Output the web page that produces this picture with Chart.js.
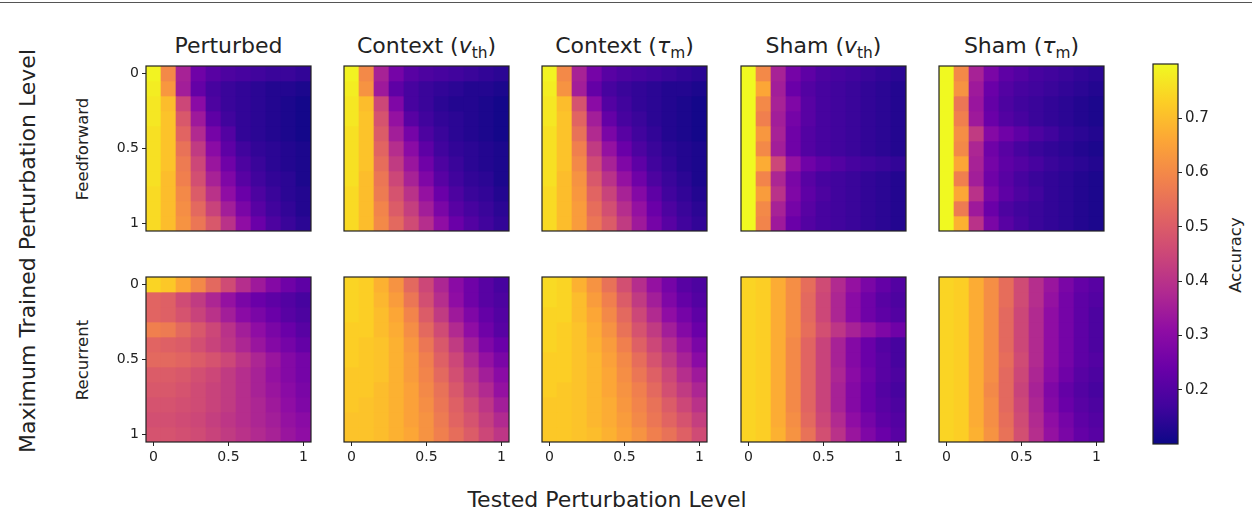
<!DOCTYPE html>
<html>
<head>
<meta charset="utf-8">
<script src="https://cdn.jsdelivr.net/npm/chart.js@4.4.0/dist/chart.umd.min.js"></script>
<style>
  body { margin: 0; width: 1252px; height: 517px; background: #fff; position: relative; overflow: hidden;
         font-family: "DejaVu Sans", sans-serif; color: #222; }
  .topline { position: absolute; left: 0; top: 2px; width: 1252px; height: 1px; background: #555; }
  canvas { position: absolute; }
  .lbl { position: absolute; white-space: nowrap; line-height: 1; transform: translate(-50%, -50%); }
  .rot { transform: translate(-50%, -50%) rotate(-90deg); }
  .big { font-size: 22px; }
  .row { font-size: 16.5px; }
  sub { font-size: 0.7em; vertical-align: -0.3em; line-height: 0; }
</style>
</head>
<body>
<div class="topline"></div>
<div id="labels"></div>
<div id="panels"></div>
<script>
// tested / trained perturbation levels
const levels = [0, 0.1, 0.2, 0.3, 0.4, 0.5, 0.6, 0.7, 0.8, 0.9, 1];
const tickValues = [0, 0.5, 1];
const tickLabels = ['0', '0.5', '1'];
const colorbarTicks = [0.2, 0.3, 0.4, 0.5, 0.6, 0.7];
const accMin = 0.1, accMax = 0.8;

const columnTitles = ['Perturbed', 'Context (<i>v</i><sub>th</sub>)', 'Context (<i>τ</i><sub>m</sub>)',
                      'Sham (<i>v</i><sub>th</sub>)', 'Sham (<i>τ</i><sub>m</sub>)'];
const rowTitles = ['Feedforward', 'Recurrent'];

// accuracy grids: rows = trained level (0 -> 1), columns = tested level (0 -> 1)
const ffPerturbed = [
  [0.79, 0.60, 0.36, 0.25, 0.21, 0.19, 0.18, 0.17, 0.16, 0.16, 0.15],
  [0.78, 0.63, 0.35, 0.23, 0.18, 0.16, 0.15, 0.14, 0.13, 0.13, 0.12],
  [0.77, 0.70, 0.45, 0.30, 0.19, 0.16, 0.15, 0.14, 0.13, 0.12, 0.11],
  [0.77, 0.71, 0.49, 0.34, 0.22, 0.17, 0.15, 0.14, 0.13, 0.12, 0.11],
  [0.76, 0.71, 0.52, 0.38, 0.26, 0.20, 0.15, 0.14, 0.13, 0.12, 0.11],
  [0.76, 0.71, 0.55, 0.42, 0.30, 0.22, 0.17, 0.15, 0.14, 0.13, 0.12],
  [0.76, 0.71, 0.57, 0.45, 0.33, 0.25, 0.19, 0.16, 0.14, 0.13, 0.12],
  [0.76, 0.70, 0.58, 0.47, 0.36, 0.28, 0.21, 0.17, 0.15, 0.14, 0.12],
  [0.75, 0.70, 0.60, 0.50, 0.40, 0.31, 0.24, 0.19, 0.16, 0.14, 0.13],
  [0.75, 0.70, 0.61, 0.53, 0.44, 0.35, 0.27, 0.21, 0.17, 0.15, 0.13],
  [0.75, 0.70, 0.62, 0.56, 0.49, 0.40, 0.31, 0.24, 0.19, 0.16, 0.14]
];
const ffContextV = [
  [0.79, 0.60, 0.36, 0.26, 0.21, 0.19, 0.18, 0.17, 0.16, 0.15, 0.14],
  [0.78, 0.62, 0.34, 0.22, 0.18, 0.16, 0.15, 0.14, 0.13, 0.13, 0.12],
  [0.77, 0.70, 0.45, 0.28, 0.18, 0.16, 0.14, 0.13, 0.13, 0.12, 0.11],
  [0.77, 0.71, 0.48, 0.32, 0.21, 0.17, 0.15, 0.14, 0.13, 0.12, 0.11],
  [0.76, 0.71, 0.50, 0.35, 0.26, 0.19, 0.16, 0.14, 0.13, 0.12, 0.11],
  [0.76, 0.71, 0.52, 0.39, 0.30, 0.22, 0.17, 0.15, 0.14, 0.13, 0.12],
  [0.76, 0.71, 0.54, 0.42, 0.33, 0.25, 0.19, 0.16, 0.14, 0.13, 0.12],
  [0.76, 0.70, 0.56, 0.45, 0.36, 0.28, 0.21, 0.17, 0.15, 0.14, 0.12],
  [0.75, 0.70, 0.57, 0.48, 0.40, 0.32, 0.24, 0.19, 0.16, 0.15, 0.13],
  [0.75, 0.70, 0.59, 0.50, 0.43, 0.35, 0.27, 0.21, 0.18, 0.16, 0.14],
  [0.75, 0.70, 0.60, 0.53, 0.46, 0.39, 0.31, 0.24, 0.20, 0.17, 0.15]
];
const ffContextTau = [
  [0.79, 0.60, 0.36, 0.26, 0.21, 0.19, 0.18, 0.17, 0.16, 0.15, 0.14],
  [0.78, 0.62, 0.35, 0.23, 0.18, 0.16, 0.15, 0.14, 0.13, 0.13, 0.12],
  [0.77, 0.70, 0.48, 0.30, 0.20, 0.17, 0.15, 0.14, 0.13, 0.12, 0.11],
  [0.77, 0.71, 0.52, 0.35, 0.23, 0.18, 0.16, 0.14, 0.13, 0.12, 0.11],
  [0.76, 0.71, 0.55, 0.38, 0.27, 0.21, 0.17, 0.15, 0.13, 0.12, 0.11],
  [0.76, 0.71, 0.58, 0.42, 0.32, 0.24, 0.19, 0.16, 0.14, 0.13, 0.12],
  [0.76, 0.71, 0.60, 0.46, 0.36, 0.28, 0.22, 0.17, 0.15, 0.13, 0.12],
  [0.76, 0.70, 0.62, 0.49, 0.40, 0.32, 0.25, 0.19, 0.16, 0.14, 0.12],
  [0.75, 0.70, 0.63, 0.52, 0.44, 0.36, 0.29, 0.22, 0.17, 0.15, 0.13],
  [0.75, 0.70, 0.64, 0.54, 0.47, 0.39, 0.32, 0.24, 0.19, 0.16, 0.14],
  [0.75, 0.70, 0.64, 0.56, 0.50, 0.42, 0.34, 0.26, 0.21, 0.17, 0.15]
];
const ffShamV = [
  [0.80, 0.60, 0.36, 0.26, 0.22, 0.19, 0.18, 0.17, 0.16, 0.15, 0.14],
  [0.80, 0.66, 0.35, 0.24, 0.20, 0.18, 0.17, 0.16, 0.15, 0.14, 0.13],
  [0.80, 0.60, 0.36, 0.28, 0.21, 0.18, 0.17, 0.16, 0.15, 0.14, 0.13],
  [0.80, 0.58, 0.35, 0.26, 0.21, 0.18, 0.17, 0.16, 0.15, 0.14, 0.13],
  [0.80, 0.63, 0.36, 0.25, 0.20, 0.18, 0.17, 0.16, 0.15, 0.14, 0.13],
  [0.80, 0.60, 0.35, 0.25, 0.20, 0.18, 0.17, 0.16, 0.15, 0.14, 0.13],
  [0.80, 0.67, 0.45, 0.32, 0.25, 0.22, 0.20, 0.18, 0.17, 0.16, 0.15],
  [0.80, 0.59, 0.37, 0.27, 0.21, 0.18, 0.17, 0.16, 0.15, 0.14, 0.13],
  [0.80, 0.64, 0.40, 0.28, 0.22, 0.19, 0.17, 0.16, 0.15, 0.14, 0.13],
  [0.80, 0.60, 0.36, 0.26, 0.21, 0.18, 0.17, 0.16, 0.15, 0.14, 0.13],
  [0.80, 0.59, 0.34, 0.24, 0.20, 0.18, 0.17, 0.16, 0.15, 0.14, 0.13]
];
const ffShamTau = [
  [0.80, 0.60, 0.36, 0.27, 0.22, 0.20, 0.18, 0.17, 0.16, 0.15, 0.14],
  [0.80, 0.62, 0.34, 0.24, 0.20, 0.18, 0.17, 0.16, 0.15, 0.14, 0.13],
  [0.80, 0.56, 0.33, 0.23, 0.19, 0.17, 0.16, 0.15, 0.14, 0.13, 0.12],
  [0.80, 0.58, 0.34, 0.24, 0.20, 0.18, 0.16, 0.15, 0.14, 0.13, 0.12],
  [0.80, 0.61, 0.42, 0.29, 0.25, 0.22, 0.19, 0.17, 0.15, 0.14, 0.13],
  [0.80, 0.60, 0.37, 0.25, 0.21, 0.18, 0.16, 0.15, 0.14, 0.13, 0.12],
  [0.80, 0.66, 0.36, 0.26, 0.22, 0.20, 0.18, 0.16, 0.15, 0.14, 0.13],
  [0.80, 0.58, 0.35, 0.25, 0.21, 0.18, 0.16, 0.15, 0.14, 0.13, 0.12],
  [0.80, 0.66, 0.40, 0.27, 0.22, 0.19, 0.17, 0.15, 0.14, 0.13, 0.12],
  [0.80, 0.57, 0.34, 0.24, 0.19, 0.17, 0.16, 0.15, 0.14, 0.13, 0.12],
  [0.80, 0.68, 0.40, 0.27, 0.21, 0.18, 0.16, 0.15, 0.14, 0.13, 0.12]
];
const recPerturbed = [
  [0.74, 0.72, 0.66, 0.60, 0.53, 0.46, 0.39, 0.34, 0.29, 0.25, 0.22],
  [0.52, 0.51, 0.46, 0.42, 0.37, 0.32, 0.27, 0.24, 0.22, 0.20, 0.18],
  [0.52, 0.51, 0.48, 0.44, 0.40, 0.35, 0.30, 0.27, 0.24, 0.21, 0.19],
  [0.58, 0.57, 0.53, 0.49, 0.45, 0.40, 0.35, 0.31, 0.27, 0.24, 0.21],
  [0.52, 0.51, 0.50, 0.47, 0.44, 0.41, 0.37, 0.33, 0.29, 0.26, 0.23],
  [0.53, 0.53, 0.52, 0.50, 0.48, 0.45, 0.41, 0.37, 0.33, 0.29, 0.26],
  [0.50, 0.50, 0.49, 0.47, 0.45, 0.42, 0.39, 0.36, 0.32, 0.29, 0.26],
  [0.49, 0.49, 0.48, 0.46, 0.44, 0.42, 0.39, 0.36, 0.33, 0.30, 0.27],
  [0.48, 0.48, 0.47, 0.46, 0.44, 0.42, 0.39, 0.37, 0.34, 0.31, 0.28],
  [0.47, 0.47, 0.46, 0.45, 0.43, 0.41, 0.39, 0.37, 0.35, 0.32, 0.30],
  [0.48, 0.48, 0.47, 0.46, 0.44, 0.42, 0.40, 0.38, 0.36, 0.33, 0.31]
];
const recContextV = [
  [0.74, 0.73, 0.68, 0.62, 0.53, 0.45, 0.37, 0.30, 0.25, 0.21, 0.18],
  [0.74, 0.73, 0.69, 0.64, 0.56, 0.47, 0.39, 0.31, 0.25, 0.21, 0.19],
  [0.74, 0.73, 0.70, 0.66, 0.59, 0.50, 0.42, 0.34, 0.28, 0.23, 0.20],
  [0.73, 0.73, 0.70, 0.67, 0.61, 0.53, 0.46, 0.38, 0.31, 0.25, 0.21],
  [0.73, 0.72, 0.71, 0.68, 0.63, 0.56, 0.49, 0.42, 0.35, 0.28, 0.24],
  [0.73, 0.72, 0.71, 0.68, 0.64, 0.58, 0.51, 0.45, 0.38, 0.32, 0.27],
  [0.72, 0.72, 0.71, 0.68, 0.64, 0.59, 0.53, 0.47, 0.41, 0.35, 0.30],
  [0.72, 0.72, 0.70, 0.68, 0.65, 0.60, 0.55, 0.49, 0.43, 0.38, 0.32],
  [0.72, 0.71, 0.70, 0.68, 0.65, 0.61, 0.56, 0.51, 0.46, 0.41, 0.35],
  [0.71, 0.71, 0.70, 0.68, 0.65, 0.62, 0.57, 0.52, 0.48, 0.43, 0.38],
  [0.71, 0.71, 0.70, 0.68, 0.66, 0.62, 0.58, 0.54, 0.50, 0.45, 0.41]
];
const recContextTau = [
  [0.75, 0.74, 0.68, 0.62, 0.55, 0.47, 0.39, 0.32, 0.26, 0.21, 0.19],
  [0.75, 0.74, 0.70, 0.64, 0.58, 0.50, 0.42, 0.35, 0.28, 0.23, 0.20],
  [0.74, 0.74, 0.70, 0.66, 0.60, 0.53, 0.45, 0.38, 0.31, 0.26, 0.22],
  [0.74, 0.73, 0.71, 0.67, 0.62, 0.55, 0.48, 0.42, 0.35, 0.29, 0.24],
  [0.74, 0.73, 0.71, 0.68, 0.64, 0.58, 0.51, 0.45, 0.39, 0.33, 0.27],
  [0.73, 0.73, 0.71, 0.69, 0.65, 0.60, 0.54, 0.48, 0.42, 0.36, 0.30],
  [0.73, 0.73, 0.71, 0.69, 0.66, 0.61, 0.56, 0.51, 0.45, 0.39, 0.34],
  [0.73, 0.72, 0.71, 0.69, 0.66, 0.62, 0.58, 0.53, 0.47, 0.42, 0.37],
  [0.72, 0.72, 0.71, 0.69, 0.67, 0.63, 0.59, 0.55, 0.50, 0.45, 0.40],
  [0.72, 0.72, 0.71, 0.69, 0.67, 0.64, 0.60, 0.56, 0.52, 0.48, 0.43],
  [0.72, 0.72, 0.71, 0.70, 0.68, 0.65, 0.62, 0.58, 0.55, 0.51, 0.46]
];
const recShamV = [
  [0.74, 0.73, 0.67, 0.61, 0.54, 0.46, 0.38, 0.32, 0.27, 0.23, 0.20],
  [0.74, 0.73, 0.67, 0.61, 0.53, 0.45, 0.37, 0.30, 0.25, 0.21, 0.19],
  [0.74, 0.73, 0.67, 0.61, 0.53, 0.45, 0.37, 0.30, 0.25, 0.22, 0.20],
  [0.74, 0.73, 0.67, 0.61, 0.54, 0.47, 0.41, 0.36, 0.32, 0.28, 0.25],
  [0.74, 0.73, 0.67, 0.60, 0.52, 0.44, 0.36, 0.29, 0.24, 0.20, 0.18],
  [0.74, 0.73, 0.67, 0.60, 0.52, 0.44, 0.36, 0.29, 0.24, 0.21, 0.18],
  [0.74, 0.73, 0.67, 0.60, 0.52, 0.44, 0.37, 0.30, 0.25, 0.21, 0.19],
  [0.74, 0.73, 0.67, 0.60, 0.52, 0.44, 0.36, 0.29, 0.24, 0.20, 0.18],
  [0.74, 0.73, 0.67, 0.60, 0.52, 0.44, 0.36, 0.29, 0.24, 0.21, 0.19],
  [0.74, 0.73, 0.67, 0.61, 0.53, 0.45, 0.38, 0.31, 0.26, 0.22, 0.20],
  [0.74, 0.73, 0.68, 0.62, 0.55, 0.47, 0.40, 0.33, 0.28, 0.24, 0.21]
];
const recShamTau = [
  [0.74, 0.73, 0.67, 0.61, 0.54, 0.46, 0.39, 0.33, 0.27, 0.23, 0.21],
  [0.74, 0.73, 0.67, 0.61, 0.54, 0.46, 0.39, 0.32, 0.26, 0.22, 0.20],
  [0.74, 0.73, 0.67, 0.61, 0.53, 0.45, 0.38, 0.31, 0.26, 0.22, 0.19],
  [0.74, 0.73, 0.67, 0.61, 0.53, 0.45, 0.38, 0.31, 0.26, 0.22, 0.19],
  [0.74, 0.73, 0.67, 0.61, 0.53, 0.45, 0.38, 0.31, 0.26, 0.22, 0.19],
  [0.74, 0.73, 0.67, 0.61, 0.54, 0.46, 0.38, 0.31, 0.26, 0.22, 0.20],
  [0.74, 0.73, 0.67, 0.61, 0.53, 0.45, 0.37, 0.30, 0.25, 0.21, 0.19],
  [0.74, 0.73, 0.67, 0.60, 0.53, 0.44, 0.36, 0.28, 0.23, 0.20, 0.18],
  [0.74, 0.73, 0.67, 0.61, 0.53, 0.45, 0.37, 0.29, 0.24, 0.21, 0.19],
  [0.74, 0.73, 0.67, 0.61, 0.54, 0.46, 0.38, 0.31, 0.26, 0.22, 0.20],
  [0.74, 0.73, 0.68, 0.62, 0.55, 0.47, 0.39, 0.32, 0.27, 0.23, 0.21]
];

const grids = [
  [ffPerturbed, ffContextV, ffContextTau, ffShamV, ffShamTau],
  [recPerturbed, recContextV, recContextTau, recShamV, recShamTau]
];

// layout of the panel plot areas (page px)
const colLeft = [146, 344, 542, 741, 939];
const rowTop = [66, 277];
const cell = 165;
const M = { left: 40, top: 12, right: 4, bottom: 26 };
const textColor = '#222';
const tickFont = { family: 'DejaVu Sans', size: 14 };

// plasma colormap anchors
const plasmaStops = [
  [13, 8, 135], [65, 4, 157], [106, 0, 168], [143, 13, 164], [177, 42, 144], [204, 71, 120],
  [225, 100, 98], [242, 132, 75], [252, 166, 54], [252, 206, 37], [240, 249, 33]
];
function plasma(t) {
  t = Math.min(1, Math.max(0, t)) * (plasmaStops.length - 1);
  const i = Math.min(Math.floor(t), plasmaStops.length - 2);
  const f = t - i;
  const a = plasmaStops[i], b = plasmaStops[i + 1];
  const c = a.map((v, k) => Math.round(v + (b[k] - v) * f));
  return `rgb(${c[0]},${c[1]},${c[2]})`;
}
const accColor = v => plasma((v - accMin) / (accMax - accMin));

const framePlugin = {
  id: 'frame',
  afterDatasetsDraw(chart) {
    const { ctx, chartArea: a } = chart;
    ctx.save();
    ctx.strokeStyle = textColor;
    ctx.lineWidth = 1.2;
    ctx.strokeRect(a.left, a.top, a.right - a.left, a.bottom - a.top);
    ctx.restore();
  }
};

const half = (levels[1] - levels[0]) / 2;

function axisOpts(show, extra) {
  return Object.assign({
    type: 'linear',
    display: show,
    offset: false,
    min: levels[0] - half,
    max: levels[levels.length - 1] + half,
    border: { display: false },
    grid: { offset: false, drawOnChartArea: false, drawTicks: true, tickLength: 4, color: textColor, lineWidth: 1 },
    afterBuildTicks: s => { s.ticks = tickValues.map(v => ({ value: v })); },
    ticks: {
      font: tickFont, color: textColor, padding: 3, maxRotation: 0, autoSkip: false,
      callback: v => tickLabels[tickValues.indexOf(v)]
    }
  }, extra);
}

function makePanel(r, c) {
  const grid = grids[r][c];
  const showX = r === 1, showY = c === 0;
  const canvas = document.createElement('canvas');
  canvas.width = cell + M.left + M.right;
  canvas.height = cell + M.top + M.bottom;
  canvas.style.left = (colLeft[c] - M.left) + 'px';
  canvas.style.top = (rowTop[r] - M.top) + 'px';
  document.getElementById('panels').appendChild(canvas);

  const datasets = grid.map((row, i) => ({
    data: row.map((acc, j) => ({ x: levels[j], y: [levels[i] - half, levels[i] + half] })),
    backgroundColor: row.map(accColor),
    borderWidth: 0,
    grouped: false,
    barPercentage: 1,
    categoryPercentage: 1
  }));

  // hidden axes still reserve the space fixed in afterFit, so every panel lines up
  new Chart(canvas, {
    type: 'bar',
    data: { datasets },
    plugins: [framePlugin],
    options: {
      responsive: false,
      animation: false,
      events: [],
      layout: { padding: { left: 0, top: M.top, right: M.right, bottom: 0 } },
      plugins: { legend: { display: false }, tooltip: { enabled: false } },
      scales: {
        x: axisOpts(showX, { afterFit: s => { s.height = M.bottom; } }),
        y: axisOpts(showY, { reverse: true, afterFit: s => { s.width = M.left; } })
      }
    }
  });
}

for (let r = 0; r < 2; r++) for (let c = 0; c < 5; c++) makePanel(r, c);

// colorbar
(() => {
  const cb = { left: 1153, top: 64, width: 25, height: 380, axis: 50 };
  const canvas = document.createElement('canvas');
  canvas.width = 2 + cb.width + cb.axis;
  canvas.height = cb.height + 24;
  canvas.style.left = (cb.left - 2) + 'px';
  canvas.style.top = (cb.top - 12) + 'px';
  document.getElementById('panels').appendChild(canvas);

  new Chart(canvas, {
    type: 'bar',
    data: {
      labels: ['Accuracy'],
      datasets: [{
        data: [[accMin, accMax]],
        borderWidth: 0,
        barPercentage: 1,
        categoryPercentage: 1,
        backgroundColor: ctx => {
          const chart = ctx.chart;
          const y = chart.scales.y;
          if (!chart.chartArea || !y) return accColor(0.45);
          const g = chart.ctx.createLinearGradient(0, y.getPixelForValue(accMin), 0, y.getPixelForValue(accMax));
          plasmaStops.forEach((s, i) => g.addColorStop(i / (plasmaStops.length - 1), `rgb(${s[0]},${s[1]},${s[2]})`));
          return g;
        }
      }]
    },
    plugins: [framePlugin],
    options: {
      responsive: false,
      animation: false,
      events: [],
      layout: { padding: { left: 2, top: 12, right: 0, bottom: 12 } },
      plugins: { legend: { display: false }, tooltip: { enabled: false } },
      scales: {
        x: { display: false },
        y: {
          position: 'right',
          min: accMin,
          max: accMax,
          border: { display: false },
          grid: { drawOnChartArea: false, tickLength: 4, color: textColor },
          afterBuildTicks: s => { s.ticks = colorbarTicks.map(v => ({ value: v })); },
          afterFit: s => { s.width = cb.axis; },
          ticks: { font: { family: 'DejaVu Sans', size: 15 }, color: textColor, padding: 3,
                   callback: v => v.toFixed(1) }
        }
      }
    }
  });
})();

// text labels
const labels = document.getElementById('labels');
function addLabel(html, x, y, cls) {
  const d = document.createElement('div');
  d.className = 'lbl ' + cls;
  d.innerHTML = html;
  d.style.left = x + 'px';
  d.style.top = y + 'px';
  labels.appendChild(d);
}
columnTitles.forEach((t, c) => addLabel(t, colLeft[c] + cell / 2, 46, 'big'));
rowTitles.forEach((t, r) => addLabel(t, 83, rowTop[r] + cell / 2, 'row rot'));
addLabel('Maximum Trained Perturbation Level', 28, 251, 'big rot');
addLabel('Tested Perturbation Level', 607, 500, 'big');
addLabel('Accuracy', 1236, 255, 'row rot');
</script>
</body>
</html>
